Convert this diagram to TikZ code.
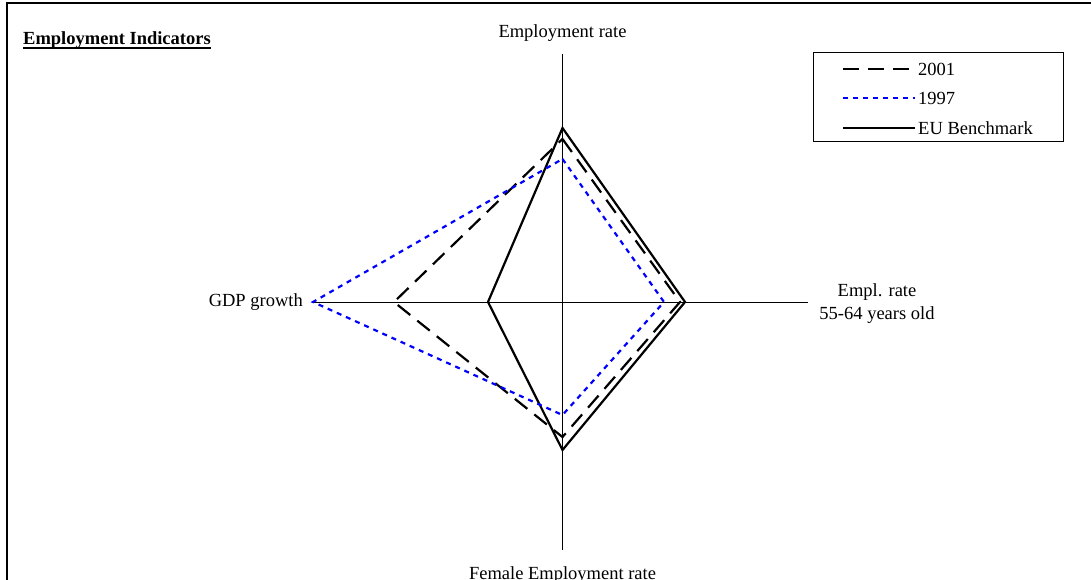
\documentclass[tikz,border=0pt]{standalone}
\usepackage{fontspec}
\setmainfont{Liberation Serif}
\usetikzlibrary{positioning}
\definecolor{pureblue}{rgb}{0,0,1}
\tikzset{
  lbl/.style={font=\fontsize{18.5}{22}\selectfont, inner sep=0pt},
  eu/.style={black, line width=2.2pt},
  yr2001/.style={black, line width=2.2pt, dash pattern=on 16pt off 9pt},
  yr1997/.style={pureblue, line width=2.2pt, dash pattern=on 5pt off 5pt}
}

\begin{document}
\begin{tikzpicture}[x=1pt,y=-1pt]
    \useasboundingbox (0,0) rectangle (1091,580);
    \draw[line width=1.8pt] (7,580) -- (7,3) -- (1091,3);
    \node[lbl, anchor=base west, font=\fontsize{18.5}{22}\selectfont\bfseries] (title) at (23,45) {Employment Indicators};
    \draw[line width=1.8pt] ([yshift=-3pt]title.base west) -- ([yshift=-3pt]title.base east);
    % axes
    \coordinate (O) at (562.5,302);
    \coordinate (top) at (562.5,54);
    \coordinate (bot) at (562.5,550);
    \coordinate (lft) at (313,302);
    \coordinate (rgt) at (808,302);
    \draw[line width=1pt] (top) -- (bot);
    \draw[line width=1pt] (lft) -- (rgt);
    \node[lbl, anchor=base] (empl) at (562.5,38) {Employment rate};
    \node[lbl, anchor=base] (female) at (562.5,579) {Female Employment rate};
    \node[lbl, left=10pt of lft] (gdp) {GDP growth};
    \node[lbl, anchor=base] (older) at (877,296) {Empl. rate};
    \node[lbl, anchor=base] (olderb) at (877,319) {55-64 years old};
    % indicators
    \draw[eu] (562.5,128) -- (685,302) -- (562.5,450) -- (488,302) -- cycle;
    \draw[yr2001] (562.5,139) -- (680,302) -- (562.5,437) -- (394,302) -- cycle;
    \draw[yr1997] (562.5,159) -- (664,302) -- (562.5,415) -- (313,302) -- cycle;
    % legend
    \draw[line width=1pt] (813,53) rectangle (1063,142);
    \coordinate (l1) at (843,69);
    \coordinate (l2) at (843,98);
    \coordinate (l3) at (843,128);
    \draw[yr2001, line width=2.5pt] (l1) -- +(67,0);
    \draw[yr1997, line width=2.5pt] (l2) -- +(72,0);
    \draw[eu] (l3) -- +(72,0);
    \node[lbl, anchor=west] (leg1) at (918,69) {2001};
    \node[lbl, anchor=west] (leg2) at (918,98) {1997};
    \node[lbl, anchor=west] (leg3) at (918,128) {EU Benchmark};
  \end{tikzpicture}
\end{document}
